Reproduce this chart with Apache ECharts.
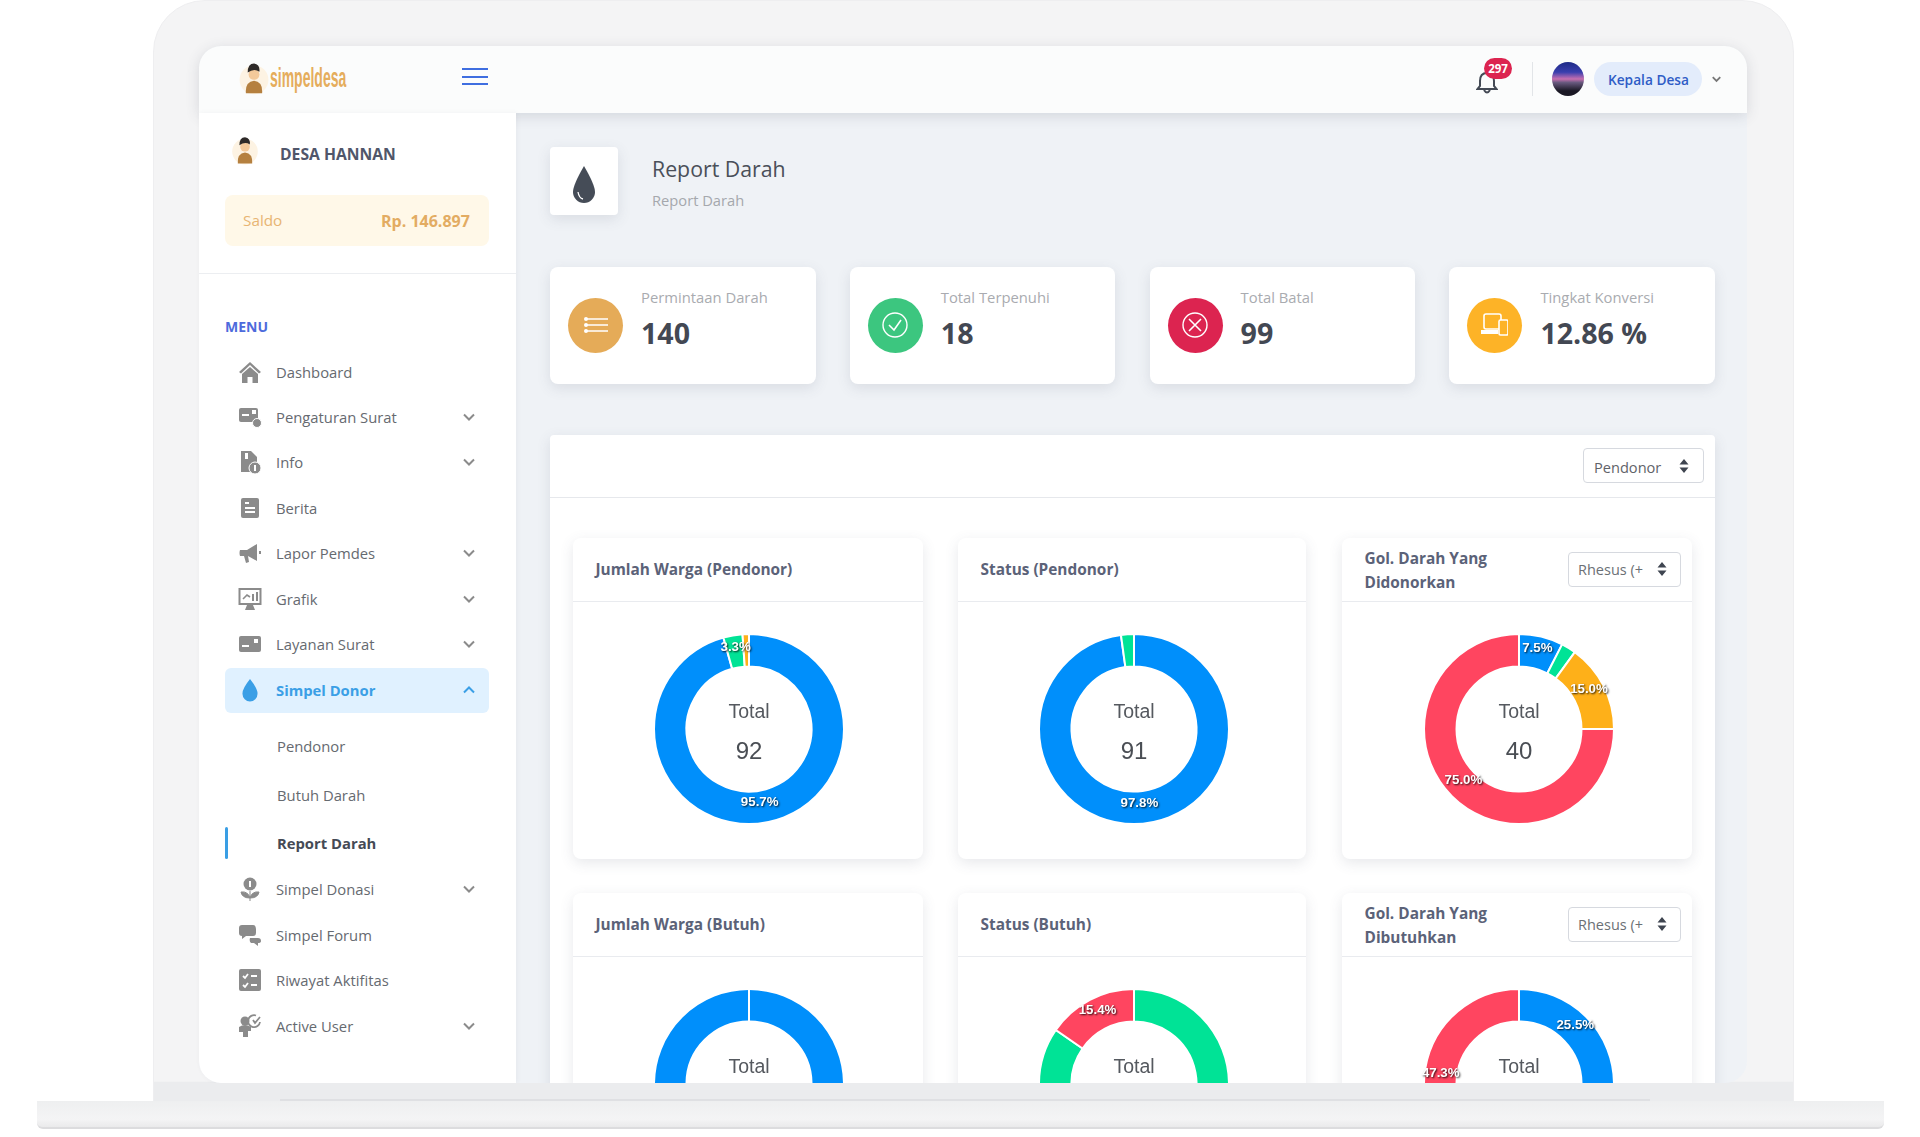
<!DOCTYPE html>
<html>
<head>
<meta charset="utf-8">
<title>Report Darah</title>
<script src="https://cdn.jsdelivr.net/npm/echarts@6/dist/echarts.min.js"></script>
<style>
html, body { margin: 0; padding: 0; width: 1920px; height: 1137px; overflow: hidden; background: #fff; font-family: "Open Sans", sans-serif; }
.abs, .abs * { box-sizing: border-box; }
.abs { position: absolute; }
#lid { left: 153px; top: 0; width: 1641px; height: 1102px; background: linear-gradient(#f4f4f5 98.2%, #ebecee 98.3%); border-radius: 52px 52px 0 0; border: 1px solid #eeeef0; }
#base { left: 37px; top: 1101px; width: 1847px; height: 28px; background: linear-gradient(#eeeff0, #f4f4f5 70%, #eaeaeb); border-bottom: 2px solid #dcdcde; border-radius: 0 0 6px 6px; }
#notch { left: 280px; top: 1099px; width: 1370px; height: 2px; background: #dfe0e3; }
#screen { left: 199px; top: 46px; width: 1548px; height: 1037px; background: #eff2f6; border-radius: 22px; overflow: hidden; }
.txt { position: absolute; white-space: nowrap; line-height: 1; transform: translateY(-50%); }
.card { position: absolute; background: #fff; border-radius: 8px; box-shadow: 0 4px 14px rgba(70,80,100,.13); }
.sel { position: absolute; background: #fff; border: 1px solid #d6d9df; border-radius: 4px; }
#chart { position: absolute; left: 550px; top: 435px; width: 1165px; height: 648px; z-index: 5; }
</style>
</head>
<body>
<div id="lid" class="abs"></div>
<div id="base" class="abs"></div>
<div id="notch" class="abs"></div>
<div id="screen" class="abs"></div>
<div id="page" class="abs" style="left:0;top:0;width:1920px;height:1083px;overflow:hidden;z-index:4"></div>
<div id="chart"></div>
<script>
// nilai tiap donat
var jumlahPendonor = [88, 3, 1];
var statusPendonor = [89, 2];
var golPendonor = [3, 1, 6, 30];
var jumlahButuh = [52, 0];
var statusButuh = [11, 2];
var golButuh = [14, 3, 12, 26];

// kartu statistik
var statLabels = ['Permintaan Darah', 'Total Terpenuhi', 'Total Batal', 'Tingkat Konversi'];
var statValues = ['140', '18', '99', '12.86 %'];

// menu samping
var menuLabels = ['Dashboard', 'Pengaturan Surat', 'Info', 'Berita', 'Lapor Pemdes', 'Grafik', 'Layanan Surat', 'Simpel Donor', 'Simpel Donasi', 'Simpel Forum', 'Riwayat Aktifitas', 'Active User'];
var subMenuLabels = ['Pendonor', 'Butuh Darah', 'Report Darah'];

var BLUE = '#008FFB', GREEN = '#00E396', YELLOW = '#FEB019', RED = '#FF4560';
var page = document.getElementById('page');

function add(html) { page.insertAdjacentHTML('beforeend', html); }
function txt(x, y, s, size, color, extra) {
	add('<div class="txt" style="left:' + x + 'px;top:' + y + 'px;font-size:' + size + 'px;color:' + color + ';' + (extra || '') + '">' + s + '</div>');
}
function box(x, y, w, h, css) {
	add('<div class="abs" style="left:' + x + 'px;top:' + y + 'px;width:' + w + 'px;height:' + h + 'px;' + css + '"></div>');
}
function svg(x, y, w, h, vb, inner) {
	add('<svg style="position:absolute;left:' + x + 'px;top:' + y + 'px" width="' + w + '" height="' + h + '" viewBox="' + vb + '">' + inner + '</svg>');
}
function chevron(x, y, color, up) {
	var d = up ? 'M1 7 L6 2 L11 7' : 'M1 2 L6 7 L11 2';
	svg(x - 6, y - 5, 12, 10, '0 0 12 9', '<path d="' + d + '" fill="none" stroke="' + color + '" stroke-width="2"/>');
}
function updown(x, y) {
	svg(x - 5, y - 7, 10, 14, '0 0 10 14', '<path d="M5 0 L9.5 5.5 H.5 Z M5 14 L.5 8.5 H9.5 Z" fill="#3f4550"/>');
}
function mascot(x, y, s) {
	svg(x, y, s, s, '0 0 40 40',
		'<circle cx="20" cy="22" r="16" fill="#fdf3e3"/><path d="M11 37 Q10 24 20 23 Q30 24 29 37 Z" fill="#b5803f"/>' +
		'<circle cx="20" cy="16" r="6" fill="#f3c99a"/><path d="M13 14 Q13 4 20 4 Q27 5 26 13 Q20 9 13 14 Z" fill="#2e2a28"/>');
}

// kepala halaman
box(199, 46, 1548, 67, 'background:#fbfcfc;border-radius:22px 22px 0 0;box-shadow:0 3px 14px rgba(60,70,90,.16);');
mascot(236, 60, 36);
txt(270, 78, 'simpeldesa', 28, '#e5ad5c', 'font-family:\'Liberation Sans\';font-weight:700;transform:translateY(-50%) scaleX(.5);transform-origin:left center');
box(462, 68, 26, 2, 'background:#3f6ee0');
box(462, 76, 26, 2, 'background:#3f6ee0');
box(462, 83, 26, 2, 'background:#3f6ee0');
svg(1476, 70, 22, 24, '0 0 22 24', '<path d="M11 3 Q4 3 4 11 V16 L1.5 19 H20.5 L18 16 V11 Q18 3 11 3 Z M8 20 Q11 25 14 20" fill="none" stroke="#444a55" stroke-width="2"/>');
box(1484, 58, 28, 21, 'background:#dc2450;border-radius:11px');
txt(1498, 68.5, '297', 11.5, '#fff', 'font-weight:700;transform:translate(-50%,-50%)');
box(1532, 62, 1, 34, 'background:#e2e5e8');
box(1552, 62, 32, 34, 'border-radius:50%;background:linear-gradient(#1d2a86 0,#3a3fae 30%,#c86fb0 50%,#6a5a80 60%,#1a1824 85%)');
box(1594, 62, 108, 34, 'background:#e3ecfb;border-radius:17px');
txt(1608, 79.5, 'Kepala Desa', 13.7, '#2f5cc6', 'font-weight:600');
svg(1712, 75, 9, 8, '0 0 12 9', '<path d="M1 2 L6 7 L11 2" fill="none" stroke="#777" stroke-width="2.4"/>');

// sidebar
box(199, 113, 317, 970, 'background:#fff;border-radius:0 0 0 22px;box-shadow:1px 0 5px rgba(60,70,90,.06)');
mascot(229, 134, 32);
txt(280, 154.5, 'DESA HANNAN', 15.7, '#50566a', 'font-weight:700');
box(225, 195, 264, 51, 'background:#fff8e8;border-radius:8px');
txt(243, 221, 'Saldo', 15.3, '#e8b573');
txt(381, 220.5, 'Rp. 146.897', 16, '#e3ac62', 'font-weight:700');
box(199, 273, 317, 1, 'background:#eceef1');
txt(225, 327, 'MENU', 14, '#4d6bdc', 'font-weight:700');

var G = '#8b8b8b';
var menuIcons = [
	'<path d="M12 2 L1 12 L3 13.5 L12 5 L21 13.5 L23 12 Z M4 14 L12 7 L20 14 V23 H14.5 V17 H9.5 V23 H4 Z" fill="' + G + '"/>',
	'<rect x="1" y="3" width="19" height="14" rx="2" fill="' + G + '"/><rect x="4" y="9" width="7" height="2" fill="#fff"/><rect x="14" y="5" width="4" height="4" fill="#fff"/><circle cx="19" cy="18" r="4.5" fill="' + G + '" stroke="#fff"/>',
	'<path d="M3 1 H13 L19 7 V22 H3 Z" fill="' + G + '"/><circle cx="17" cy="18" r="6" fill="' + G + '" stroke="#fff"/><rect x="16" y="15" width="2" height="6" fill="#fff"/><rect x="7" y="3" width="3" height="6" fill="#fff"/>',
	'<rect x="3" y="2" width="18" height="20" rx="2" fill="' + G + '"/><rect x="7" y="6" width="4" height="2" fill="#fff"/><rect x="7" y="11" width="10" height="2" fill="#fff"/><rect x="7" y="15" width="10" height="2" fill="#fff"/>',
	'<path d="M2 9 Q1 12 2 15 L6 15 L8 22 L11 21 L10 15 L19 20 V3 L9 9 Z" fill="' + G + '"/><rect x="21" y="10" width="2" height="3" fill="' + G + '"/>',
	'<rect x="1.5" y="2" width="21" height="15" fill="#fff" stroke="' + G + '" stroke-width="2"/><path d="M5 12 L9 8 L12 10" fill="none" stroke="' + G + '" stroke-width="1.6"/><rect x="14" y="7" width="2" height="7" fill="' + G + '"/><rect x="18" y="5" width="2" height="9" fill="' + G + '"/><path d="M7 23 L9 18 H15 L17 23 Z" fill="' + G + '"/>',
	'<rect x="1" y="4" width="22" height="16" rx="2" fill="' + G + '"/><rect x="4" y="13" width="7" height="2" fill="#fff"/><rect x="16" y="7" width="4" height="4" fill="#fff"/>',
	'<path d="M12 1 Q4 11 4.5 16 A7.5 7.5 0 0 0 19.5 16 Q20 11 12 1 Z" fill="#3b9fe6"/>',
	'<circle cx="12" cy="7" r="6.5" fill="' + G + '"/><path d="M12 24 V14 M12 21 Q4 21 3 15 Q10 14 12 21 M12 21 Q20 21 21 15 Q14 14 12 21" fill="' + G + '" stroke="' + G + '"/><rect x="11" y="4" width="2" height="6" fill="#fff"/>',
	'<path d="M4 2 H15 Q18 2 18 6 V10 Q18 13 15 13 H8 L4 16 V13 Q1 13 1 10 V5 Q1 2 4 2 Z M12 15 H20 Q23 15 23 18 Q23 20 20 20 V23 L16 20 H13 Q11 18 12 15 Z" fill="' + G + '"/>',
	'<rect x="1" y="1" width="22" height="22" rx="2" fill="' + G + '"/><path d="M5 8 L7 10 L10 6 M5 17 L7 19 L10 15 M13 8 H19 M13 17 H19" fill="none" stroke="#fff" stroke-width="1.8"/>',
	'<circle cx="7" cy="7" r="4.5" fill="' + G + '"/><path d="M1 13 Q7 9 13 13 V17 H10 V23 H5 V18 H1 Z" fill="' + G + '"/><path d="M15 6 L17 9 L22 3 M22 8 A6 6 0 1 1 18 1.5" fill="none" stroke="' + G + '" stroke-width="1.8"/>'
];
var menuY = [372, 417, 462, 508, 553, 599, 644, 690, 889, 935, 980, 1026];
var hasChevron = [0, 1, 1, 0, 1, 1, 1, 1, 1, 0, 0, 1];
box(225, 668, 264, 45, 'background:#e0f1ff;border-radius:6px');
menuLabels.forEach(function (label, i) {
	var on = label === 'Simpel Donor';
	svg(238, menuY[i] - 12, 24, 24, '0 0 24 24', menuIcons[i]);
	txt(276, menuY[i], label, 14.8, on ? '#3b9fe6' : '#666a70', on ? 'font-weight:700' : '');
	if (hasChevron[i]) chevron(469, menuY[i], on ? '#3b9fe6' : '#8b8b8b', on);
});
var subY = [746, 795, 843];
subMenuLabels.forEach(function (label, i) {
	txt(277, subY[i], label, 14.8, i == 2 ? '#454a55' : '#666a70', i == 2 ? 'font-weight:700' : '');
});
box(225, 827, 3, 32, 'background:#3a9ee4;border-radius:2px');

// judul halaman
add('<div class="card" style="left:550px;top:147px;width:68px;height:68px;border-radius:4px"></div>');
svg(572, 166, 24, 38, '0 0 24 38', '<path d="M12 0 Q1 19 1 26 A11 11 0 0 0 23 26 Q23 19 12 0 Z" fill="#454c57"/><path d="M6 26 Q7 32 11 33" fill="none" stroke="#fff" stroke-width="1.3"/>');
txt(652, 169, 'Report Darah', 21.3, '#4a4f59');
txt(652, 200, 'Report Darah', 14.7, '#a5a8ad');

// kartu statistik
var statColors = ['#e5ab58', '#3cc67f', '#dc2450', '#fdb327'];
var statIcons = [
	'<circle cx="4" cy="7" r="2" fill="#fff"/><circle cx="4" cy="13" r="2" fill="#fff"/><circle cx="4" cy="19" r="2" fill="#fff"/><path d="M4 7 H26 M4 13 H26 M4 19 H26" stroke="#fff" stroke-width="1.6"/>',
	'<circle cx="13" cy="13" r="12" fill="none" stroke="#fff" stroke-width="1.4"/><path d="M7 13 L12 18 L19 8" fill="none" stroke="#fff" stroke-width="1.6"/>',
	'<circle cx="13" cy="13" r="12" fill="none" stroke="#fff" stroke-width="1.4"/><path d="M7 7 L19 19 M19 7 L7 19" stroke="#fff" stroke-width="1.6"/>',
	'<rect x="3" y="2" width="17" height="15" rx="2" fill="none" stroke="#fff" stroke-width="1.6"/><rect x="0" y="18" width="17" height="4" fill="#fff"/><rect x="18" y="8" width="9" height="15" rx="1.5" fill="#fdb327" stroke="#fff" stroke-width="1.6"/>'
];
statLabels.forEach(function (label, i) {
	var x = 550 + i * 299.8;
	add('<div class="card" style="left:' + x + 'px;top:267px;width:265.5px;height:117px"></div>');
	box(x + 18, 297.5, 55, 55, 'background:' + statColors[i] + ';border-radius:50%');
	svg(x + 32, 312, 27, 27, '0 0 27 27', statIcons[i]);
	txt(x + 91, 297, label, 14.8, '#a9abb0');
	txt(x + 91, 332.5, statValues[i], 28.6, '#434853', 'font-weight:700');
});

// panel laporan
add('<div class="card" style="left:550px;top:435px;width:1165px;height:660px;border-radius:4px"></div>');
box(550, 497, 1165, 1, 'background:#e6e8ec');
add('<div class="sel" style="left:1583px;top:448px;width:121px;height:35px"></div>');
txt(1594, 466.5, 'Pendonor', 14.6, '#5f6369');
updown(1684, 465.5);

// kartu donat
var cardX = [573, 958, 1342];
var cardY = [538, 893];
var cardTitles = [
	['Jumlah Warga (Pendonor)', 'Status (Pendonor)', 'Gol. Darah Yang|Didonorkan'],
	['Jumlah Warga (Butuh)', 'Status (Butuh)', 'Gol. Darah Yang|Dibutuhkan']
];
cardY.forEach(function (cy, r) {
	cardX.forEach(function (cx, c) {
		var w = c == 1 ? 348 : 350;
		add('<div class="card" style="left:' + cx + 'px;top:' + cy + 'px;width:' + w + 'px;height:321px"></div>');
		box(cx, cy + 63, w, 1, 'background:#e9ebef');
		var parts = cardTitles[r][c].split('|');
		var st = 'font-weight:700;';
		if (parts.length == 1) {
			txt(cx + 22.5, cy + 31.5, parts[0], 15.4, '#5b6278', st);
		} else {
			txt(cx + 22.5, cy + 20.5, parts[0], 15.4, '#5b6278', st);
			txt(cx + 22.5, cy + 44.5, parts[1], 15.4, '#5b6278', st);
			add('<div class="sel" style="left:' + (cx + 226) + 'px;top:' + (cy + 14) + 'px;width:113px;height:35px"></div>');
			txt(cx + 236, cy + 32, 'Rhesus (+', 14.5, '#6b7075');
			updown(cx + 320, cy + 31);
		}
	});
});

// donat digambar oleh echarts
var donuts = [
	{ data: jumlahPendonor, colors: [BLUE, GREEN, YELLOW], x: 199, y: 294 },
	{ data: statusPendonor, colors: [BLUE, GREEN], x: 584, y: 294 },
	{ data: golPendonor, colors: [BLUE, GREEN, YELLOW, RED], x: 969, y: 294 },
	{ data: jumlahButuh, colors: [BLUE, BLUE], x: 199, y: 649 },
	{ data: statusButuh, colors: [GREEN, RED], x: 584, y: 649 },
	{ data: golButuh, colors: [BLUE, GREEN, YELLOW, RED], x: 969, y: 649 }
];

function sum(arr) { return arr.reduce(function (a, b) { return a + b; }, 0); }

var titles = [], series = [];
donuts.forEach(function (d) {
	var total = sum(d.data);
	titles.push({ text: 'Total', left: d.x, top: d.y - 16.5, padding: 0, textAlign: 'center', textVerticalAlign: 'middle',
		textStyle: { fontFamily: 'Liberation Sans', fontWeight: 'normal', fontSize: 19.5, color: '#55595f' } });
	titles.push({ text: String(total), left: d.x, top: d.y + 23, padding: 0, textAlign: 'center', textVerticalAlign: 'middle',
		textStyle: { fontFamily: 'Liberation Sans', fontWeight: 'normal', fontSize: 24, color: '#4a4e54' } });
	series.push({
		type: 'pie',
		center: [d.x, d.y],
		radius: [62.5, 95],
		startAngle: 90,
		clockwise: true,
		animation: false,
		silent: true,
		stillShowZeroSum: true,
		minShowLabelAngle: 10,
		labelLine: { show: false },
		// label sedikit ke dalam dan ke atas
		labelLayout: function (p) {
			var lx = p.labelRect.x + p.labelRect.width / 2 - d.x;
			var ly = p.labelRect.y + p.labelRect.height / 2 - d.y;
			var k = -3.2 / Math.sqrt(lx * lx + ly * ly);
			return { dx: lx * k, dy: ly * k - 4 };
		},
		itemStyle: { borderColor: '#fff', borderWidth: 2 },
		label: {
			show: true,
			position: 'inside',
			rotate: 0,
			fontFamily: 'Liberation Sans',
			fontWeight: 'bold',
			fontSize: 13.3,
			color: '#fff',
			textShadowColor: 'rgba(0,0,0,.85)',
			textShadowBlur: 2,
			textShadowOffsetX: 1,
			textShadowOffsetY: 1,
			formatter: function (p) { return (p.value / total * 100).toFixed(1) + '%'; }
		},
		data: d.data.map(function (v, i) {
			return { value: v, name: 'S' + i, itemStyle: { color: d.colors[i] } };
		})
	});
});

var myChart = echarts.init(document.getElementById('chart'));
myChart.setOption({ animation: false, title: titles, series: series });
</script>
</body>
</html>
